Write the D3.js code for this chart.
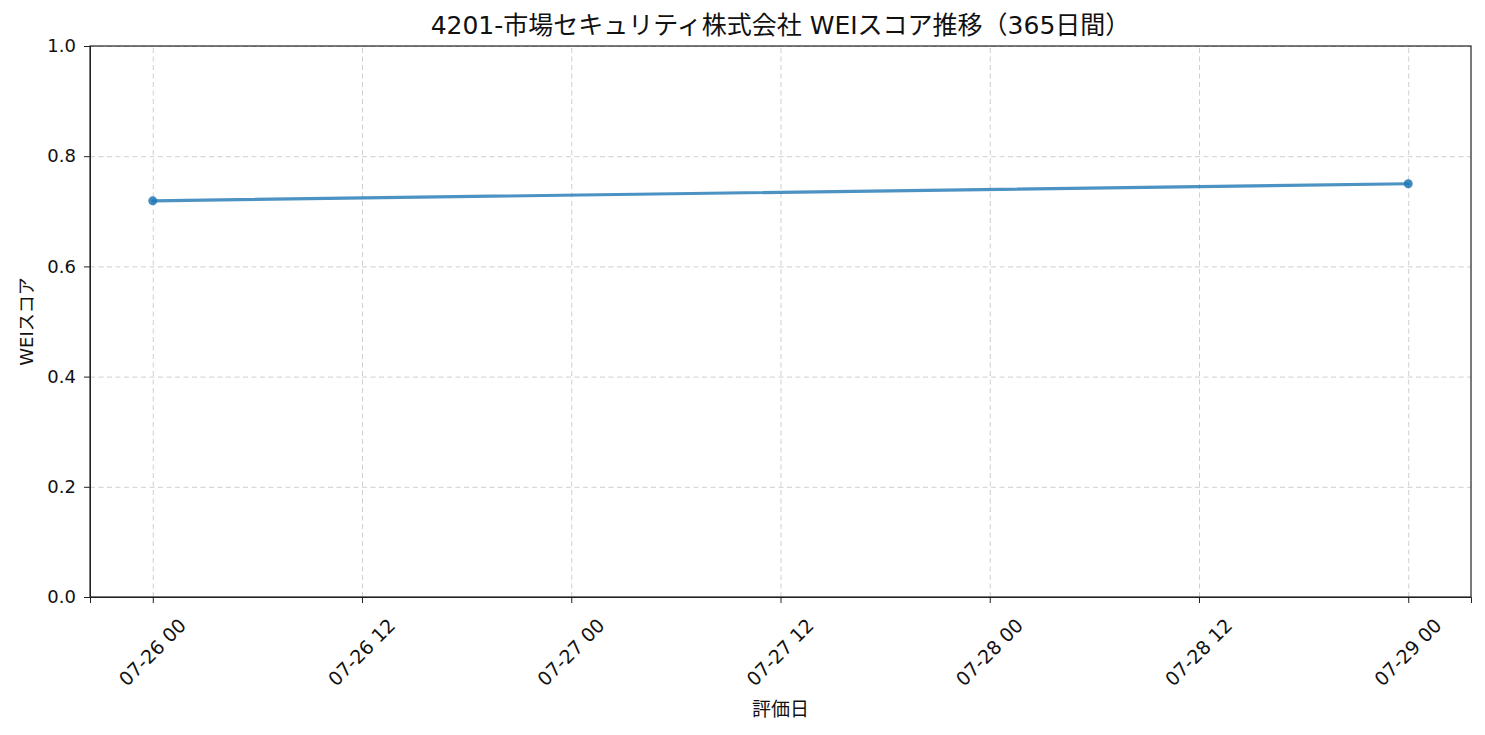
<!DOCTYPE html>
<html>
<head>
<meta charset="utf-8">
<script src="https://cdn.jsdelivr.net/npm/d3@7"></script>
<style>
  body { margin: 0; background: #fff; }
  svg text { font-family: "DejaVu Sans", "Noto Sans CJK JP", sans-serif; fill: #111; }
  .axis path, .axis line { stroke: #222; }
  .grid line { stroke: #cfcfcf; stroke-dasharray: 5,3.5; }
  .grid path { display: none; }
</style>
</head>
<body>
<div id="graphic"></div>
<script>
// data
const dates = ["2024-07-26T00:00", "2024-07-29T00:00"];
const scores = [0.719, 0.750];
const xTickLabels = ["07-26 00", "07-26 12", "07-27 00", "07-27 12", "07-28 00", "07-28 12", "07-29 00"];
const yTicks = [0, 0.2, 0.4, 0.6, 0.8, 1.0];
const titleText = "4201-市場セキュリティ株式会社 WEIスコア推移（365日間）";

const parseTime = d3.timeParse("%Y-%m-%dT%H:%M");
const points = dates.map((d, i) => ({ date: parseTime(d), score: scores[i] }));
const tickDates = xTickLabels.map(l => d3.timeParse("%Y-%m-%d %H")("2024-" + l));

const margin = { left: 90, right: 14, top: 46, bottom: 138 };
const outerWidth = 1485, outerHeight = 735;
const width = outerWidth - margin.left - margin.right;
const height = outerHeight - margin.top - margin.bottom;

const svg = d3.select("#graphic").append("svg")
  .attr("width", outerWidth)
  .attr("height", outerHeight);

const plot = svg.append("g")
  .attr("transform", `translate(${margin.left}, ${margin.top})`);

// matplotlib-style 5% padding on x
const ext = d3.extent(points, d => d.date);
const pad = (ext[1] - ext[0]) * 0.05;
const xScale = d3.scaleTime()
  .domain([new Date(+ext[0] - pad), new Date(+ext[1] + pad)])
  .range([0, width]);

const yScale = d3.scaleLinear()
  .domain([0, 1])
  .range([height, 0]);

// grid
plot.append("g")
  .attr("class", "grid")
  .call(d3.axisLeft(yScale).tickValues(yTicks).tickSize(-width).tickFormat(""));
plot.append("g")
  .attr("class", "grid")
  .attr("transform", `translate(0, ${height})`)
  .call(d3.axisBottom(xScale).tickValues(tickDates).tickSize(height).tickFormat(""))
  .selectAll("line").attr("y2", -height);

// axes
const yAxis = plot.append("g")
  .attr("class", "axis")
  .call(d3.axisLeft(yScale).tickValues(yTicks).tickSize(6).tickPadding(8).tickFormat(d3.format(".1f")));
yAxis.selectAll("text").style("font-size", "18px");

const xAxis = plot.append("g")
  .attr("class", "axis")
  .attr("transform", `translate(0, ${height})`)
  .call(d3.axisBottom(xScale).tickValues(tickDates).tickSize(6).tickFormat((d, i) => xTickLabels[i]));
xAxis.selectAll("text")
  .style("font-size", "19px")
  .attr("text-anchor", "middle")
  .attr("dominant-baseline", "central")
  .attr("y", 0)
  .attr("dy", 0)
  .attr("transform", "translate(-1, 55) rotate(-45)");

// frame
plot.append("rect")
  .attr("width", width).attr("height", height)
  .attr("fill", "none").attr("stroke", "#222").attr("stroke-width", 1.2);

// line
const line = d3.line()
  .x(d => xScale(d.date))
  .y(d => yScale(d.score));

plot.append("path")
  .datum(points)
  .attr("fill", "none")
  .attr("stroke", "#1f77b4")
  .attr("stroke-opacity", 0.8)
  .attr("stroke-width", 3.2)
  .attr("stroke-linecap", "round")
  .attr("d", line);

plot.selectAll("circle")
  .data(points)
  .enter().append("circle")
  .attr("r", 4.5)
  .attr("fill", "#1f77b4")
  .attr("fill-opacity", 0.85)
  .attr("cx", d => xScale(d.date))
  .attr("cy", d => yScale(d.score));

// labels
svg.append("text")
  .attr("x", margin.left + width / 2)
  .attr("y", 34)
  .attr("text-anchor", "middle")
  .style("font-size", "25px")
  .text(titleText);

svg.append("text")
  .attr("x", margin.left + width / 2)
  .attr("y", 716)
  .attr("text-anchor", "middle")
  .style("font-size", "19px")
  .text("評価日");

svg.append("text")
  .attr("transform", `translate(33, ${margin.top + height / 2}) rotate(-90)`)
  .attr("text-anchor", "middle")
  .style("font-size", "18px")
  .text("WEIスコア");
</script>
</body>
</html>
